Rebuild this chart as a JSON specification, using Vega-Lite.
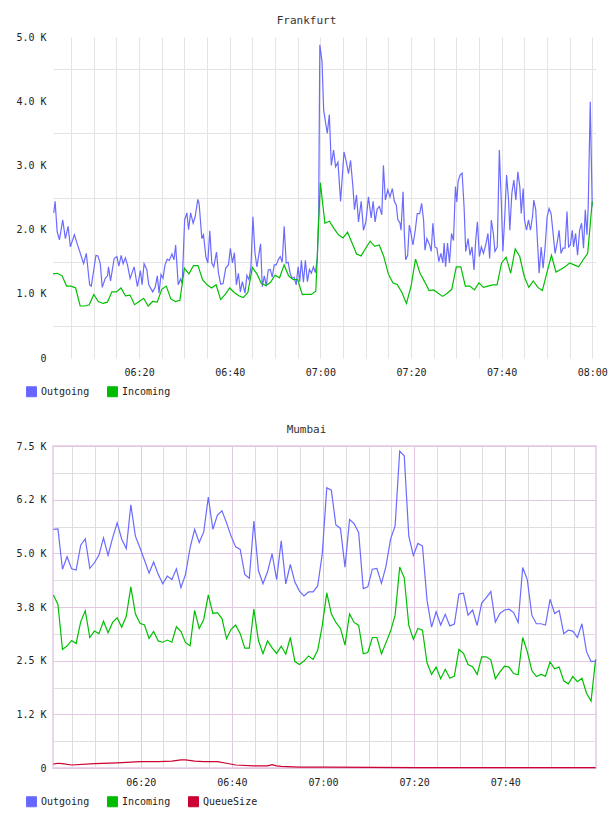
{
  "$schema": "https://vega.github.io/schema/vega-lite/v6.json",
  "background": "white",
  "padding": {"left": 14, "top": 15, "right": 6, "bottom": 4},
  "spacing": 24,
  "config": {
    "font": "DejaVu Sans Mono",
    "title": {"font": "DejaVu Sans Mono", "fontSize": 11, "fontWeight": "normal", "color": "#333333", "offset": 6, "anchor": "middle", "dx": -18},
    "axis": {"labelFont": "DejaVu Sans Mono", "labelFontSize": 10, "labelColor": "#222222", "title": null, "ticks": false, "domain": false},
    "legend": {"labelFont": "DejaVu Sans Mono", "labelFontSize": 10, "labelColor": "#222222"}
  },
  "resolve": {"scale": {"color": "independent"}, "legend": {"color": "independent"}},
  "datasets": {
    "fra_out": [
      {"t":"06:01:10","v":2260},{"t":"06:01:28","v":2440},{"t":"06:01:55","v":1970},{"t":"06:02:25","v":1840},{"t":"06:03:09","v":2150},{"t":"06:03:44","v":1860},{"t":"06:04:20","v":2050},{"t":"06:04:50","v":1730},{"t":"06:05:43","v":1920},{"t":"06:06:18","v":1790},
      {"t":"06:06:53","v":1660},{"t":"06:07:45","v":1470},{"t":"06:08:21","v":1630},{"t":"06:09:05","v":1140},{"t":"06:09:27","v":1120},{"t":"06:10:29","v":1600},{"t":"06:10:55","v":1590},{"t":"06:11:26","v":1470},{"t":"06:11:52","v":1100},{"t":"06:12:32","v":1240},
      {"t":"06:13:02","v":1280},{"t":"06:13:15","v":1420},{"t":"06:13:42","v":1200},{"t":"06:14:30","v":1550},{"t":"06:15:06","v":1580},{"t":"06:15:32","v":1430},{"t":"06:16:03","v":1600},{"t":"06:16:29","v":1470},{"t":"06:16:59","v":1560},{"t":"06:17:26","v":1450},
      {"t":"06:18:01","v":1240},{"t":"06:18:54","v":1420},{"t":"06:19:38","v":1110},{"t":"06:20:17","v":1360},{"t":"06:20:40","v":1140},{"t":"06:21:06","v":1470},{"t":"06:21:42","v":1380},{"t":"06:22:08","v":1140},{"t":"06:23:01","v":1030},{"t":"06:23:35","v":1110},
      {"t":"06:24:01","v":1280},{"t":"06:24:24","v":1010},{"t":"06:24:50","v":1300},{"t":"06:25:17","v":1240},{"t":"06:25:43","v":1450},{"t":"06:26:13","v":1540},{"t":"06:26:40","v":1520},{"t":"06:27:15","v":1620},{"t":"06:27:42","v":1530},{"t":"06:28:04","v":1760},
      {"t":"06:28:38","v":1140},{"t":"06:29:10","v":1230},{"t":"06:29:31","v":1160},{"t":"06:30:03","v":2150},{"t":"06:30:33","v":2260},{"t":"06:30:55","v":2000},{"t":"06:31:22","v":2260},{"t":"06:31:56","v":2100},{"t":"06:32:22","v":2200},{"t":"06:32:58","v":2470},
      {"t":"06:33:15","v":2400},{"t":"06:33:51","v":1860},{"t":"06:34:13","v":1920},{"t":"06:34:44","v":1580},{"t":"06:35:10","v":1480},{"t":"06:35:36","v":1980},{"t":"06:36:03","v":1480},{"t":"06:36:29","v":1420},{"t":"06:37:05","v":1650},{"t":"06:37:31","v":1320},
      {"t":"06:38:01","v":1150},{"t":"06:38:32","v":1160},{"t":"06:39:07","v":1400},{"t":"06:39:43","v":1450},{"t":"06:40:09","v":1710},{"t":"06:40:36","v":1480},{"t":"06:41:02","v":1640},{"t":"06:41:28","v":1140},{"t":"06:41:55","v":1320},{"t":"06:42:21","v":1030},
      {"t":"06:42:47","v":1190},{"t":"06:43:22","v":1010},{"t":"06:43:48","v":1290},{"t":"06:44:15","v":1220},{"t":"06:44:41","v":1420},{"t":"06:45:07","v":2200},{"t":"06:45:34","v":1640},{"t":"06:46:00","v":1420},{"t":"06:46:26","v":1610},{"t":"06:46:49","v":1780},
      {"t":"06:47:11","v":1110},{"t":"06:47:38","v":1280},{"t":"06:48:04","v":1120},{"t":"06:48:30","v":1370},{"t":"06:48:57","v":1380},{"t":"06:49:23","v":1260},{"t":"06:49:49","v":1450},{"t":"06:50:16","v":1450},{"t":"06:50:42","v":1530},{"t":"06:51:09","v":1580},
      {"t":"06:51:35","v":1490},{"t":"06:52:01","v":2050},{"t":"06:52:28","v":1480},{"t":"06:52:54","v":1490},{"t":"06:53:20","v":1320},{"t":"06:53:47","v":1240},{"t":"06:54:13","v":1260},{"t":"06:54:40","v":1140},{"t":"06:55:06","v":1420},{"t":"06:55:27","v":1190},
      {"t":"06:55:49","v":1520},{"t":"06:56:16","v":1180},{"t":"06:56:42","v":1520},{"t":"06:57:09","v":1190},{"t":"06:57:35","v":1380},{"t":"06:58:01","v":1320},{"t":"06:58:28","v":1420},{"t":"06:58:54","v":1330},{"t":"06:59:20","v":1550},{"t":"06:59:38","v":2260},
      {"t":"06:59:53","v":4880},{"t":"07:00:22","v":4620},{"t":"07:00:44","v":3860},{"t":"07:01:10","v":3660},{"t":"07:01:32","v":3500},{"t":"07:01:59","v":3790},{"t":"07:02:25","v":3000},{"t":"07:02:55","v":3240},{"t":"07:03:22","v":2980},{"t":"07:03:53","v":3050},
      {"t":"07:04:28","v":2440},{"t":"07:05:13","v":3210},{"t":"07:05:43","v":3060},{"t":"07:06:13","v":2870},{"t":"07:06:40","v":3080},{"t":"07:07:11","v":2670},{"t":"07:07:32","v":2310},{"t":"07:07:59","v":2540},{"t":"07:08:25","v":2120},{"t":"07:09:01","v":2440},
      {"t":"07:09:31","v":1990},{"t":"07:10:03","v":2120},{"t":"07:10:37","v":2510},{"t":"07:11:13","v":2180},{"t":"07:11:39","v":2440},{"t":"07:12:05","v":2120},{"t":"07:12:32","v":2320},{"t":"07:13:02","v":2360},{"t":"07:13:34","v":2230},{"t":"07:13:55","v":3000},
      {"t":"07:14:21","v":2460},{"t":"07:14:53","v":2620},{"t":"07:15:23","v":2510},{"t":"07:15:53","v":2640},{"t":"07:16:20","v":2440},{"t":"07:16:46","v":2380},{"t":"07:17:05","v":2160},{"t":"07:17:35","v":2100},{"t":"07:17:48","v":1990},{"t":"07:18:15","v":2590},
      {"t":"07:18:32","v":1940},{"t":"07:18:50","v":1530},{"t":"07:19:16","v":1600},{"t":"07:19:38","v":2070},{"t":"07:20:00","v":1940},{"t":"07:20:26","v":1760},{"t":"07:20:57","v":1990},{"t":"07:21:23","v":2250},{"t":"07:21:55","v":2250},{"t":"07:22:21","v":2410},
      {"t":"07:22:47","v":2150},{"t":"07:23:05","v":1680},{"t":"07:23:31","v":1860},{"t":"07:24:07","v":1760},{"t":"07:24:28","v":1660},{"t":"07:24:50","v":2100},{"t":"07:25:17","v":1730},{"t":"07:25:43","v":1710},{"t":"07:26:09","v":1500},{"t":"07:26:36","v":1630},
      {"t":"07:27:02","v":1480},{"t":"07:27:19","v":1790},{"t":"07:27:38","v":1420},{"t":"07:28:04","v":1790},{"t":"07:28:30","v":1480},{"t":"07:28:57","v":1940},{"t":"07:29:23","v":1830},{"t":"07:29:49","v":2670},{"t":"07:30:07","v":2430},{"t":"07:30:24","v":2750},
      {"t":"07:30:50","v":2850},{"t":"07:31:17","v":2880},{"t":"07:31:43","v":2360},{"t":"07:32:05","v":1660},{"t":"07:32:36","v":1860},{"t":"07:33:02","v":1600},{"t":"07:33:28","v":1730},{"t":"07:33:55","v":1370},{"t":"07:34:17","v":1830},{"t":"07:34:40","v":2120},
      {"t":"07:35:06","v":1580},{"t":"07:35:32","v":1730},{"t":"07:35:59","v":1630},{"t":"07:36:29","v":1760},{"t":"07:36:59","v":1940},{"t":"07:37:22","v":1550},{"t":"07:37:44","v":2150},{"t":"07:38:11","v":1940},{"t":"07:38:32","v":1660},{"t":"07:39:03","v":1730},
      {"t":"07:39:30","v":3240},{"t":"07:39:56","v":2440},{"t":"07:40:17","v":1660},{"t":"07:40:44","v":2250},{"t":"07:41:06","v":2850},{"t":"07:41:32","v":2460},{"t":"07:41:49","v":1990},{"t":"07:42:16","v":2570},{"t":"07:42:42","v":2770},{"t":"07:43:09","v":2460},
      {"t":"07:43:35","v":2900},{"t":"07:44:01","v":2670},{"t":"07:44:20","v":2250},{"t":"07:44:46","v":2640},{"t":"07:45:03","v":2150},{"t":"07:45:30","v":1990},{"t":"07:45:56","v":2150},{"t":"07:46:22","v":1990},{"t":"07:46:49","v":2200},{"t":"07:47:06","v":2460},
      {"t":"07:47:32","v":2310},{"t":"07:47:59","v":1730},{"t":"07:48:17","v":1320},{"t":"07:48:44","v":1730},{"t":"07:49:10","v":1400},{"t":"07:49:36","v":1730},{"t":"07:50:03","v":2200},{"t":"07:50:29","v":2330},{"t":"07:50:55","v":2250},{"t":"07:51:22","v":1940},
      {"t":"07:51:48","v":1630},{"t":"07:52:15","v":1790},{"t":"07:52:41","v":1990},{"t":"07:53:07","v":1630},{"t":"07:53:34","v":1710},{"t":"07:54:00","v":1710},{"t":"07:54:26","v":2280},{"t":"07:54:47","v":1730},{"t":"07:55:10","v":1760},{"t":"07:55:36","v":1990},
      {"t":"07:55:53","v":1730},{"t":"07:56:20","v":1940},{"t":"07:56:46","v":1600},{"t":"07:57:13","v":1990},{"t":"07:57:39","v":2100},{"t":"07:58:05","v":1710},{"t":"07:58:28","v":2310},{"t":"07:58:50","v":1920},{"t":"07:59:07","v":2360},{"t":"07:59:34","v":3990},
      {"t":"08:00:00","v":2360}
    ],
    "fra_in": [
      {"t":"06:01:00","v":1310},{"t":"06:02:00","v":1320},{"t":"06:03:00","v":1280},{"t":"06:04:00","v":1120},{"t":"06:05:00","v":1120},{"t":"06:06:00","v":1090},{"t":"06:07:00","v":810},{"t":"06:08:00","v":810},{"t":"06:09:00","v":830},{"t":"06:10:00","v":990},
      {"t":"06:11:00","v":880},{"t":"06:12:00","v":850},{"t":"06:13:00","v":870},{"t":"06:14:00","v":1030},{"t":"06:15:00","v":1030},{"t":"06:16:00","v":1090},{"t":"06:17:00","v":970},{"t":"06:18:00","v":980},{"t":"06:19:00","v":830},{"t":"06:20:00","v":880},
      {"t":"06:21:00","v":930},{"t":"06:22:00","v":810},{"t":"06:23:00","v":880},{"t":"06:24:00","v":870},{"t":"06:25:00","v":1070},{"t":"06:26:00","v":1120},{"t":"06:27:00","v":920},{"t":"06:28:00","v":880},{"t":"06:29:00","v":900},{"t":"06:30:00","v":1400},
      {"t":"06:31:00","v":1310},{"t":"06:32:00","v":1440},{"t":"06:33:00","v":1440},{"t":"06:34:00","v":1220},{"t":"06:35:00","v":1140},{"t":"06:36:00","v":1090},{"t":"06:37:00","v":1140},{"t":"06:38:00","v":910},{"t":"06:39:00","v":990},{"t":"06:40:00","v":1090},
      {"t":"06:41:00","v":1020},{"t":"06:42:00","v":970},{"t":"06:43:00","v":940},{"t":"06:44:00","v":1020},{"t":"06:45:00","v":1410},{"t":"06:46:00","v":1310},{"t":"06:47:00","v":1160},{"t":"06:48:00","v":1130},{"t":"06:49:00","v":1180},{"t":"06:50:00","v":1290},
      {"t":"06:51:00","v":1250},{"t":"06:52:00","v":1450},{"t":"06:53:00","v":1280},{"t":"06:54:00","v":1220},{"t":"06:55:00","v":1220},{"t":"06:56:00","v":990},{"t":"06:57:00","v":990},{"t":"06:58:00","v":990},{"t":"06:59:00","v":1040},{"t":"07:00:00","v":2730},
      {"t":"07:01:00","v":2100},{"t":"07:02:00","v":2130},{"t":"07:03:00","v":2020},{"t":"07:04:00","v":1920},{"t":"07:05:00","v":1870},{"t":"07:06:00","v":1960},{"t":"07:07:00","v":1790},{"t":"07:08:00","v":1620},{"t":"07:09:00","v":1590},{"t":"07:10:00","v":1710},
      {"t":"07:11:00","v":1820},{"t":"07:12:00","v":1740},{"t":"07:13:00","v":1760},{"t":"07:14:00","v":1580},{"t":"07:15:00","v":1310},{"t":"07:16:00","v":1170},{"t":"07:17:00","v":1140},{"t":"07:18:00","v":1020},{"t":"07:19:00","v":850},{"t":"07:20:00","v":1110},
      {"t":"07:21:00","v":1540},{"t":"07:22:00","v":1320},{"t":"07:23:00","v":1190},{"t":"07:24:00","v":1050},{"t":"07:25:00","v":1060},{"t":"07:26:00","v":1010},{"t":"07:27:00","v":960},{"t":"07:28:00","v":1010},{"t":"07:29:00","v":1070},{"t":"07:30:00","v":1420},
      {"t":"07:31:00","v":1420},{"t":"07:32:00","v":1120},{"t":"07:33:00","v":1120},{"t":"07:34:00","v":1060},{"t":"07:35:00","v":1170},{"t":"07:36:00","v":1100},{"t":"07:37:00","v":1120},{"t":"07:38:00","v":1140},{"t":"07:39:00","v":1140},{"t":"07:40:00","v":1480},
      {"t":"07:41:00","v":1570},{"t":"07:42:00","v":1320},{"t":"07:43:00","v":1700},{"t":"07:44:00","v":1580},{"t":"07:45:00","v":1270},{"t":"07:46:00","v":1100},{"t":"07:47:00","v":1200},{"t":"07:48:00","v":1100},{"t":"07:49:00","v":1050},{"t":"07:50:00","v":1330},
      {"t":"07:51:00","v":1600},{"t":"07:52:00","v":1340},{"t":"07:53:00","v":1380},{"t":"07:54:00","v":1420},{"t":"07:55:00","v":1480},{"t":"07:56:00","v":1450},{"t":"07:57:00","v":1420},{"t":"07:58:00","v":1530},{"t":"07:59:00","v":1630},{"t":"08:00:00","v":2440}
    ],
    "mum": [
      {"t":"06:00:50","o":5560,"i":4030},{"t":"06:01:50","o":5570,"i":3810},{"t":"06:02:50","o":4630,"i":2760},{"t":"06:03:50","o":4920,"i":2840},{"t":"06:04:50","o":4640,"i":2970},{"t":"06:05:50","o":4610,"i":2900},{"t":"06:06:50","o":5190,"i":3410},{"t":"06:07:50","o":5340,"i":3660},{"t":"06:08:50","o":4650,"i":3040},{"t":"06:09:50","o":4780,"i":3190},
      {"t":"06:10:50","o":4960,"i":3130},{"t":"06:11:50","o":5360,"i":3420},{"t":"06:12:50","o":4950,"i":3150},{"t":"06:13:50","o":5360,"i":3390},{"t":"06:14:50","o":5710,"i":3500},{"t":"06:15:50","o":5330,"i":3280},{"t":"06:16:50","o":5110,"i":3540},{"t":"06:17:50","o":6130,"i":4220},{"t":"06:18:50","o":5400,"i":3590},{"t":"06:19:50","o":5130,"i":3370},
      {"t":"06:20:50","o":4840,"i":3330},{"t":"06:21:50","o":4540,"i":3020},{"t":"06:22:50","o":4800,"i":3180},{"t":"06:23:50","o":4510,"i":2960},{"t":"06:24:50","o":4290,"i":2930},{"t":"06:25:50","o":4470,"i":2980},{"t":"06:26:50","o":4390,"i":2930},{"t":"06:27:50","o":4640,"i":3290},{"t":"06:28:50","o":4200,"i":3180},{"t":"06:29:50","o":4510,"i":2920},
      {"t":"06:30:50","o":5130,"i":2850},{"t":"06:31:50","o":5560,"i":3670},{"t":"06:32:50","o":5250,"i":3250},{"t":"06:33:50","o":5500,"i":3460},{"t":"06:34:50","o":6310,"i":4030},{"t":"06:35:50","o":5560,"i":3600},{"t":"06:36:50","o":5890,"i":3620},{"t":"06:37:50","o":5990,"i":3480},{"t":"06:38:50","o":5710,"i":3010},{"t":"06:39:50","o":5400,"i":3230},
      {"t":"06:40:50","o":5150,"i":3330},{"t":"06:41:50","o":5090,"i":3130},{"t":"06:42:50","o":4510,"i":2790},{"t":"06:43:50","o":4420,"i":2790},{"t":"06:44:50","o":5750,"i":3700},{"t":"06:45:50","o":4600,"i":2970},{"t":"06:46:50","o":4290,"i":2660},{"t":"06:47:50","o":4570,"i":2960},{"t":"06:48:50","o":4990,"i":2800},{"t":"06:49:50","o":4390,"i":2670},
      {"t":"06:50:50","o":5290,"i":2840},{"t":"06:51:50","o":4290,"i":2650},{"t":"06:52:50","o":4740,"i":3040},{"t":"06:53:50","o":4330,"i":2480},{"t":"06:54:50","o":4120,"i":2410},{"t":"06:55:50","o":4010,"i":2490},{"t":"06:56:50","o":4100,"i":2610},{"t":"06:57:50","o":4100,"i":2530},{"t":"06:58:50","o":4240,"i":2740},{"t":"06:59:50","o":4980,"i":3310},
      {"t":"07:00:50","o":6530,"i":4080},{"t":"07:01:50","o":6470,"i":3590},{"t":"07:02:50","o":5660,"i":3390},{"t":"07:03:50","o":5580,"i":3250},{"t":"07:04:50","o":4680,"i":2860},{"t":"07:05:50","o":5790,"i":3590},{"t":"07:06:50","o":5690,"i":3390},{"t":"07:07:50","o":5480,"i":3320},{"t":"07:08:50","o":4180,"i":2660},{"t":"07:09:50","o":4220,"i":2690},
      {"t":"07:10:50","o":4630,"i":3040},{"t":"07:11:50","o":4650,"i":3040},{"t":"07:12:50","o":4300,"i":2660},{"t":"07:13:50","o":4700,"i":2920},{"t":"07:14:50","o":5330,"i":3190},{"t":"07:15:50","o":5640,"i":3560},{"t":"07:16:50","o":7380,"i":4680},{"t":"07:17:50","o":7270,"i":4430},{"t":"07:18:50","o":5400,"i":3320},{"t":"07:19:50","o":4950,"i":3000},
      {"t":"07:20:50","o":5230,"i":3250},{"t":"07:21:50","o":5170,"i":3210},{"t":"07:22:50","o":3910,"i":2450},{"t":"07:23:50","o":3280,"i":2180},{"t":"07:24:50","o":3640,"i":2350},{"t":"07:25:50","o":3330,"i":2080},{"t":"07:26:50","o":3580,"i":2300},{"t":"07:27:50","o":3310,"i":2090},{"t":"07:28:50","o":3350,"i":2140},{"t":"07:29:50","o":4050,"i":2760},
      {"t":"07:30:50","o":4070,"i":2670},{"t":"07:31:50","o":3560,"i":2410},{"t":"07:32:50","o":3680,"i":2360},{"t":"07:33:50","o":3320,"i":2180},{"t":"07:34:50","o":3840,"i":2590},{"t":"07:35:50","o":3970,"i":2590},{"t":"07:36:50","o":4110,"i":2520},{"t":"07:37:50","o":3400,"i":2080},{"t":"07:38:50","o":3600,"i":2240},{"t":"07:39:50","o":3680,"i":2370},
      {"t":"07:40:50","o":3700,"i":2350},{"t":"07:41:50","o":3620,"i":2200},{"t":"07:42:50","o":3390,"i":2170},{"t":"07:43:50","o":4670,"i":3040},{"t":"07:44:50","o":4390,"i":2710},{"t":"07:45:50","o":3560,"i":2270},{"t":"07:46:50","o":3360,"i":2130},{"t":"07:47:50","o":3360,"i":2180},{"t":"07:48:50","o":3330,"i":2140},{"t":"07:49:50","o":3930,"i":2470},
      {"t":"07:50:50","o":3600,"i":2310},{"t":"07:51:50","o":3670,"i":2350},{"t":"07:52:50","o":3130,"i":2030},{"t":"07:53:50","o":3210,"i":1960},{"t":"07:54:50","o":3190,"i":2130},{"t":"07:55:50","o":3040,"i":2010},{"t":"07:56:50","o":3360,"i":2090},{"t":"07:57:50","o":2710,"i":1740},{"t":"07:58:50","o":2480,"i":1560},{"t":"07:59:50","o":2490,"i":2530}
    ],
    "mum_q": [
      {"t":"06:00:50","v":90},{"t":"06:01:50","v":110},{"t":"06:02:50","v":100},{"t":"06:04:50","v":70},{"t":"06:09:50","v":100},{"t":"06:14:50","v":120},{"t":"06:19:50","v":150},{"t":"06:23:50","v":150},{"t":"06:26:50","v":160},{"t":"06:28:50","v":190},
      {"t":"06:29:50","v":190},{"t":"06:31:50","v":160},{"t":"06:33:50","v":150},{"t":"06:36:50","v":150},{"t":"06:38:50","v":110},{"t":"06:40:50","v":70},{"t":"06:44:50","v":50},{"t":"06:47:50","v":50},{"t":"06:48:50","v":80},{"t":"06:49:50","v":50},
      {"t":"06:50:50","v":40},{"t":"06:54:50","v":20},{"t":"07:00:50","v":20},{"t":"07:10:50","v":15},{"t":"07:20:50","v":10},{"t":"07:30:50","v":10},{"t":"07:40:50","v":10},{"t":"07:50:50","v":10},{"t":"07:59:50","v":10}
    ]
  },
  "vconcat": [
    {
      "title": {"text": "Frankfurt"},
      "width": 543,
      "height": 321,
      "view": {"stroke": null},
      "resolve": {"axis": {"x": "independent", "y": "independent"}},
      "layer": [
        {
          "data": {"name": "fra_out", "format": {"parse": {"t": "date:'%H:%M:%S'"}}},
          "mark": {"type": "line", "strokeWidth": 1.2},
          "encoding": {
            "x": {"field": "t", "type": "temporal",
              "scale": {"domain": [{"year":1900,"month":1,"date":1,"hours":6,"minutes":1},{"year":1900,"month":1,"date":1,"hours":8,"minutes":0,"seconds":50}], "nice": false},
              "axis": {"orient": "bottom", "grid": false, "format": "%H:%M", "labelFlush": false, "labelPadding": 9,
                "values": [
                  {"year":1900,"month":1,"date":1,"hours":6,"minutes":20},{"year":1900,"month":1,"date":1,"hours":6,"minutes":40},{"year":1900,"month":1,"date":1,"hours":7,"minutes":0},
                  {"year":1900,"month":1,"date":1,"hours":7,"minutes":20},{"year":1900,"month":1,"date":1,"hours":7,"minutes":40},{"year":1900,"month":1,"date":1,"hours":8,"minutes":0}
                ]}},
            "y": {"field": "v", "type": "quantitative", "scale": {"domain": [0, 5000], "nice": false},
              "axis": {"orient": "left", "grid": false, "labelPadding": 7, "values": [0, 1000, 2000, 3000, 4000, 5000],
                "labelExpr": "datum.value == 0 ? '0' : format(datum.value / 1000, '.1f') + ' K'"}},
            "color": {"datum": "Outgoing", "type": "nominal",
              "scale": {"domain": ["Outgoing", "Incoming"], "range": ["#6b6bff", "#00bf00"]},
              "legend": {"orient": "none", "legendX": -27, "legendY": 349, "direction": "horizontal", "title": null,
                "symbolType": "square", "symbolSize": 100, "labelOffset": 4, "columnPadding": 15,
                "encode": {"symbols": {"update": {
                  "fill": {"signal": "datum.value === 'Outgoing' ? '#6666ff' : datum.value === 'Incoming' ? '#00bb00' : '#cc0033'"},
                  "stroke": {"value": "#888888"}, "strokeWidth": {"value": 1}, "opacity": {"value": 1}}}}}}
          }
        },
        {
          "data": {"name": "fra_in", "format": {"parse": {"t": "date:'%H:%M:%S'"}}},
          "mark": {"type": "line", "strokeWidth": 1.2},
          "encoding": {
            "x": {"field": "t", "type": "temporal",
              "scale": {"domain": [{"year":1900,"month":1,"date":1,"hours":6,"minutes":1},{"year":1900,"month":1,"date":1,"hours":8,"minutes":0,"seconds":50}], "nice": false},
              "axis": {"orient": "bottom", "grid": true, "gridColor": "#e4e4e4", "labels": false,
                "values": [
                  {"year":1900,"month":1,"date":1,"hours":6,"minutes":5},{"year":1900,"month":1,"date":1,"hours":6,"minutes":10},{"year":1900,"month":1,"date":1,"hours":6,"minutes":15},{"year":1900,"month":1,"date":1,"hours":6,"minutes":20},
                  {"year":1900,"month":1,"date":1,"hours":6,"minutes":25},{"year":1900,"month":1,"date":1,"hours":6,"minutes":30},{"year":1900,"month":1,"date":1,"hours":6,"minutes":35},{"year":1900,"month":1,"date":1,"hours":6,"minutes":40},
                  {"year":1900,"month":1,"date":1,"hours":6,"minutes":45},{"year":1900,"month":1,"date":1,"hours":6,"minutes":50},{"year":1900,"month":1,"date":1,"hours":6,"minutes":55},{"year":1900,"month":1,"date":1,"hours":7,"minutes":0},
                  {"year":1900,"month":1,"date":1,"hours":7,"minutes":5},{"year":1900,"month":1,"date":1,"hours":7,"minutes":10},{"year":1900,"month":1,"date":1,"hours":7,"minutes":15},{"year":1900,"month":1,"date":1,"hours":7,"minutes":20},
                  {"year":1900,"month":1,"date":1,"hours":7,"minutes":25},{"year":1900,"month":1,"date":1,"hours":7,"minutes":30},{"year":1900,"month":1,"date":1,"hours":7,"minutes":35},{"year":1900,"month":1,"date":1,"hours":7,"minutes":40},
                  {"year":1900,"month":1,"date":1,"hours":7,"minutes":45},{"year":1900,"month":1,"date":1,"hours":7,"minutes":50},{"year":1900,"month":1,"date":1,"hours":7,"minutes":55},{"year":1900,"month":1,"date":1,"hours":8,"minutes":0}
                ]}},
            "y": {"field": "v", "type": "quantitative", "scale": {"domain": [0, 5000], "nice": false},
              "axis": {"orient": "left", "grid": true, "gridColor": "#e4e4e4", "labels": false, "values": [500, 1500, 2500, 3500, 4500]}},
            "color": {"datum": "Incoming", "type": "nominal"}
          }
        }
      ]
    },
    {
      "title": {"text": "Mumbai"},
      "width": 543,
      "height": 322,
      "view": {"stroke": "#ead6ea", "strokeWidth": 2},
      "resolve": {"axis": {"x": "independent", "y": "independent"}},
      "layer": [
        {
          "data": {"name": "mum", "format": {"parse": {"t": "date:'%H:%M:%S'"}}},
          "resolve": {"axis": {"x": "independent", "y": "independent"}},
          "layer": [
            {
              "mark": {"type": "line", "strokeWidth": 1.2},
              "encoding": {
                "x": {"field": "t", "type": "temporal",
                  "scale": {"domain": [{"year":1900,"month":1,"date":1,"hours":6,"minutes":0,"seconds":45},{"year":1900,"month":1,"date":1,"hours":7,"minutes":59,"seconds":55}], "nice": false},
                  "axis": {"orient": "bottom", "grid": true, "gridColor": "#dedede", "labels": false,
                    "values": [
                      {"year":1900,"month":1,"date":1,"hours":6,"minutes":5},{"year":1900,"month":1,"date":1,"hours":6,"minutes":10},{"year":1900,"month":1,"date":1,"hours":6,"minutes":15},
                      {"year":1900,"month":1,"date":1,"hours":6,"minutes":25},{"year":1900,"month":1,"date":1,"hours":6,"minutes":30},{"year":1900,"month":1,"date":1,"hours":6,"minutes":35},
                      {"year":1900,"month":1,"date":1,"hours":6,"minutes":45},{"year":1900,"month":1,"date":1,"hours":6,"minutes":50},{"year":1900,"month":1,"date":1,"hours":6,"minutes":55},
                      {"year":1900,"month":1,"date":1,"hours":7,"minutes":5},{"year":1900,"month":1,"date":1,"hours":7,"minutes":10},{"year":1900,"month":1,"date":1,"hours":7,"minutes":15},
                      {"year":1900,"month":1,"date":1,"hours":7,"minutes":25},{"year":1900,"month":1,"date":1,"hours":7,"minutes":30},{"year":1900,"month":1,"date":1,"hours":7,"minutes":35},
                      {"year":1900,"month":1,"date":1,"hours":7,"minutes":45},{"year":1900,"month":1,"date":1,"hours":7,"minutes":50},{"year":1900,"month":1,"date":1,"hours":7,"minutes":55}
                    ]}},
                "y": {"field": "i", "type": "quantitative", "scale": {"domain": [0, 7500], "nice": false},
                  "axis": {"orient": "left", "grid": true, "gridColor": "#dedede", "labels": false, "values": [625, 1875, 3125, 4375, 5625, 6875]}},
                "color": {"datum": "Incoming", "type": "nominal"}
              }
            },
            {
              "mark": {"type": "line", "strokeWidth": 1.2},
              "encoding": {
                "x": {"field": "t", "type": "temporal",
                  "scale": {"domain": [{"year":1900,"month":1,"date":1,"hours":6,"minutes":0,"seconds":45},{"year":1900,"month":1,"date":1,"hours":7,"minutes":59,"seconds":55}], "nice": false},
                  "axis": {"orient": "bottom", "grid": true, "gridColor": "#e2c6e2", "format": "%H:%M", "labelFlush": false, "labelPadding": 9,
                    "values": [
                      {"year":1900,"month":1,"date":1,"hours":6,"minutes":20},{"year":1900,"month":1,"date":1,"hours":6,"minutes":40},{"year":1900,"month":1,"date":1,"hours":7,"minutes":0},
                      {"year":1900,"month":1,"date":1,"hours":7,"minutes":20},{"year":1900,"month":1,"date":1,"hours":7,"minutes":40}
                    ]}},
                "y": {"field": "o", "type": "quantitative", "scale": {"domain": [0, 7500], "nice": false},
                  "axis": {"orient": "left", "grid": true, "gridColor": "#e2c6e2", "labelPadding": 7, "values": [0, 1250, 2500, 3750, 5000, 6250, 7500],
                    "labelExpr": "datum.value == 0 ? '0' : datum.value == 1250 ? '1.2 K' : datum.value == 2500 ? '2.5 K' : datum.value == 3750 ? '3.8 K' : datum.value == 5000 ? '5.0 K' : datum.value == 6250 ? '6.2 K' : '7.5 K'"}},
                "color": {"datum": "Outgoing", "type": "nominal",
                  "scale": {"domain": ["Outgoing", "Incoming", "QueueSize"], "range": ["#6b6bff", "#00bf00", "#cc0033"]},
                  "legend": {"orient": "none", "legendX": -27, "legendY": 350, "direction": "horizontal", "title": null,
                    "symbolType": "square", "symbolSize": 100, "labelOffset": 4, "columnPadding": 15,
                    "encode": {"symbols": {"update": {
                      "fill": {"signal": "datum.value === 'Outgoing' ? '#6666ff' : datum.value === 'Incoming' ? '#00bb00' : '#cc0033'"},
                      "stroke": {"value": "#888888"}, "strokeWidth": {"value": 1}, "opacity": {"value": 1}}}}}}
              }
            }
          ]
        },
        {
          "data": {"name": "mum_q", "format": {"parse": {"t": "date:'%H:%M:%S'"}}},
          "mark": {"type": "line", "strokeWidth": 1.2},
          "encoding": {
            "x": {"field": "t", "type": "temporal", "axis": null,
              "scale": {"domain": [{"year":1900,"month":1,"date":1,"hours":6,"minutes":0,"seconds":45},{"year":1900,"month":1,"date":1,"hours":7,"minutes":59,"seconds":55}], "nice": false}},
            "y": {"field": "v", "type": "quantitative", "axis": null, "scale": {"domain": [0, 7500], "nice": false}},
            "color": {"datum": "QueueSize", "type": "nominal"}
          }
        }
      ]
    }
  ]
}
